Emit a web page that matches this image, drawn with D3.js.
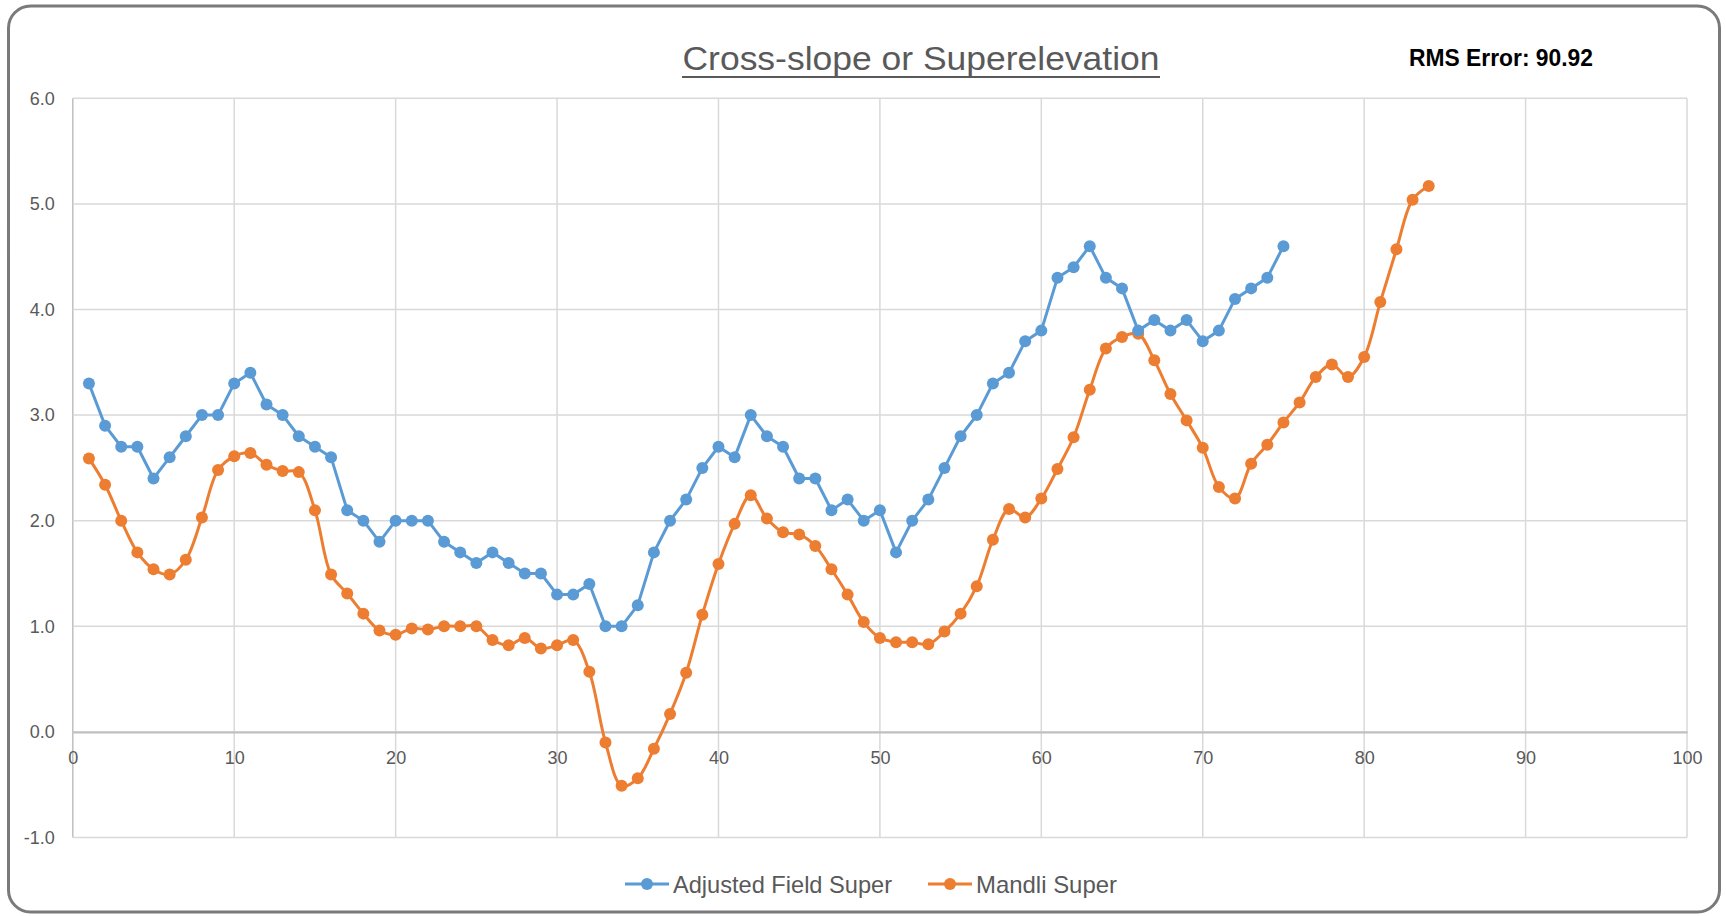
<!DOCTYPE html>
<html>
<head>
<meta charset="utf-8">
<script src="https://cdn.jsdelivr.net/npm/d3@7"></script>
<style>
  body { margin: 0; background: #fff; }
  svg { display: block; font-family: "Liberation Sans", Arial, sans-serif; }
</style>
</head>
<body>
<div id="chart"></div>
<script>
// station numbers along the road
const stations = [1,2,3,4,5,6,7,8,9,10,11,12,13,14,15,16,17,18,19,20,
  21,22,23,24,25,26,27,28,29,30,31,32,33,34,35,36,37,38,39,40,
  41,42,43,44,45,46,47,48,49,50,51,52,53,54,55,56,57,58,59,60,
  61,62,63,64,65,66,67,68,69,70,71,72,73,74,75,76,77,78,79,80,
  81,82,83,84];

// Adjusted Field Super (75 points)
const fieldSuper = [3.3,2.9,2.7,2.7,2.4,2.6,2.8,3.0,3.0,3.3,
  3.4,3.1,3.0,2.8,2.7,2.6,2.1,2.0,1.8,2.0,
  2.0,2.0,1.8,1.7,1.6,1.7,1.6,1.5,1.5,1.3,
  1.3,1.4,1.0,1.0,1.2,1.7,2.0,2.2,2.5,2.7,
  2.6,3.0,2.8,2.7,2.4,2.4,2.1,2.2,2.0,2.1,
  1.7,2.0,2.2,2.5,2.8,3.0,3.3,3.4,3.7,3.8,
  4.3,4.4,4.6,4.3,4.2,3.8,3.9,3.8,3.9,3.7,
  3.8,4.1,4.2,4.3,4.6];

// Mandli Super (84 points)
const mandliSuper = [2.59,2.34,2.0,1.70,1.54,1.49,1.63,2.03,2.48,2.61,
  2.64,2.53,2.47,2.46,2.10,1.49,1.31,1.12,0.96,0.92,
  0.98,0.97,1.0,1.0,1.0,0.87,0.82,0.89,0.79,0.82,
  0.87,0.57,-0.10,-0.51,-0.44,-0.16,0.17,0.56,1.11,1.59,
  1.97,2.24,2.02,1.89,1.87,1.76,1.54,1.30,1.04,0.89,
  0.85,0.85,0.83,0.95,1.12,1.38,1.82,2.11,2.03,2.21,
  2.49,2.79,3.24,3.63,3.74,3.77,3.52,3.20,2.95,2.69,
  2.32,2.21,2.54,2.72,2.93,3.12,3.36,3.48,3.36,3.55,
  4.07,4.57,5.04,5.17];

const xTicks = [0,10,20,30,40,50,60,70,80,90,100];
const yTicks = [-1,0,1,2,3,4,5,6];
const yTickLabels = ["-1.0","0.0","1.0","2.0","3.0","4.0","5.0","6.0"];

const W = 1726, H = 916;
const plot = { left: 72.8, right: 1687, top: 98.3, bottom: 837.5 };
const TEXT = "#595959";
const BLUE = "#5B9BD5", ORANGE = "#ED7D31";

const svg = d3.select("#chart").append("svg")
  .attr("width", W).attr("height", H);

// outer chart border
svg.append("rect")
  .attr("x", 8.5).attr("y", 6).attr("width", 1711).attr("height", 906)
  .attr("rx", 22).attr("ry", 22)
  .attr("fill", "#fff").attr("stroke", "#7a7a7a").attr("stroke-width", 3);

const x = d3.scaleLinear().domain([0, 100]).range([plot.left, plot.right]);
const y = d3.scaleLinear().domain([-1, 6]).range([plot.bottom, plot.top]);

// gridlines
svg.append("g").attr("class", "vgrid")
  .selectAll("line").data(xTicks).join("line")
  .attr("x1", d => x(d)).attr("x2", d => x(d))
  .attr("y1", plot.top).attr("y2", plot.bottom)
  .attr("stroke", d => d === 0 ? "#bfbfbf" : "#d9d9d9")
  .attr("stroke-width", 1.5);

svg.append("g").attr("class", "hgrid")
  .selectAll("line").data(yTicks.filter(d => d !== 0)).join("line")
  .attr("x1", plot.left).attr("x2", plot.right)
  .attr("y1", d => y(d)).attr("y2", d => y(d))
  .attr("stroke", "#d9d9d9").attr("stroke-width", 1.5);

// y axis labels (plain hyphen for the negative, as in the original)
const yAxis = svg.append("g")
  .attr("transform", `translate(${plot.left},0)`)
  .call(d3.axisLeft(y).tickValues(yTicks)
    .tickFormat((d, i) => yTickLabels[i])
    .tickSize(0).tickPadding(18));
yAxis.select(".domain").remove();
yAxis.selectAll("text").attr("fill", TEXT).attr("font-size", 18)
  .attr("font-family", "Liberation Sans, Arial, sans-serif");

// x axis crosses at y = 0
const xAxis = svg.append("g")
  .attr("transform", `translate(0,${y(0)})`)
  .call(d3.axisBottom(x).tickValues(xTicks).tickSize(0).tickPadding(19));
xAxis.select(".domain")
  .attr("stroke", "#bfbfbf").attr("stroke-width", 2.2);
xAxis.selectAll("text").attr("fill", TEXT).attr("font-size", 18)
  .attr("font-family", "Liberation Sans, Arial, sans-serif");

// series
const fieldPts = fieldSuper.map((v, i) => [stations[i], v]);
const mandliPts = mandliSuper.map((v, i) => [stations[i], v]);

const lineStraight = d3.line().x(d => x(d[0])).y(d => y(d[1]));
const lineSmooth = d3.line().x(d => x(d[0])).y(d => y(d[1]))
  .curve(d3.curveCatmullRom.alpha(0.5));

function drawSeries(pts, color, gen) {
  const g = svg.append("g");
  g.append("path").datum(pts)
    .attr("d", gen).attr("fill", "none")
    .attr("stroke", color).attr("stroke-width", 3)
    .attr("stroke-linejoin", "round").attr("stroke-linecap", "round");
  g.selectAll("circle").data(pts).join("circle")
    .attr("cx", d => x(d[0])).attr("cy", d => y(d[1]))
    .attr("r", 6).attr("fill", color);
}
drawSeries(mandliPts, ORANGE, lineSmooth);
drawSeries(fieldPts, BLUE, lineStraight);

// title
svg.append("text")
  .attr("x", 682.5).attr("y", 70)
  .attr("font-size", 34).attr("fill", TEXT)
  .attr("textLength", 477).attr("lengthAdjust", "spacingAndGlyphs")
  .text("Cross-slope or Superelevation");
svg.append("line")
  .attr("x1", 682).attr("x2", 1160).attr("y1", 77).attr("y2", 77)
  .attr("stroke", TEXT).attr("stroke-width", 2.2);

svg.append("text")
  .attr("x", 1409).attr("y", 66)
  .attr("font-size", 23).attr("font-weight", "bold").attr("fill", "#000")
  .attr("textLength", 184).attr("lengthAdjust", "spacingAndGlyphs")
  .text("RMS Error: 90.92");

// legend
const legendItems = [
  { name: "Adjusted Field Super", color: BLUE, x0: 625, len: 219 },
  { name: "Mandli Super", color: ORANGE, x0: 928, len: 141 }
];
const lg = svg.append("g").selectAll("g").data(legendItems).join("g")
  .attr("transform", d => `translate(${d.x0},884)`);
lg.append("line").attr("x1", 0).attr("x2", 44).attr("y1", 0).attr("y2", 0)
  .attr("stroke", d => d.color).attr("stroke-width", 3);
lg.append("circle").attr("cx", 22).attr("cy", 0).attr("r", 6)
  .attr("fill", d => d.color);
lg.append("text").attr("x", 48).attr("y", 8.5)
  .attr("font-size", 24).attr("fill", TEXT)
  .attr("textLength", d => d.len).attr("lengthAdjust", "spacingAndGlyphs")
  .text(d => d.name);
</script>
</body>
</html>
